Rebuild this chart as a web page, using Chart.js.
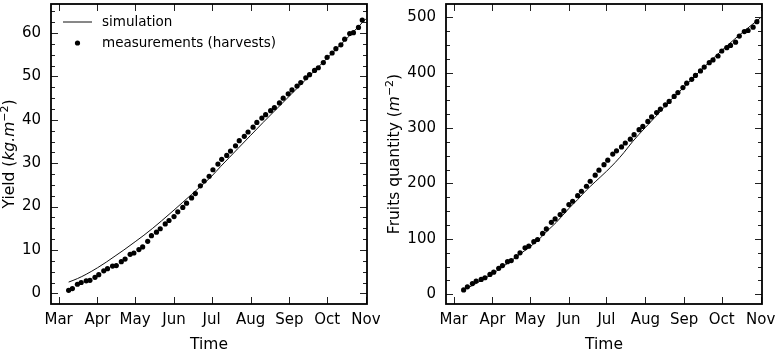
<!DOCTYPE html>
<html>
<head>
<meta charset="utf-8">
<script src="https://cdn.jsdelivr.net/npm/chart.js@4.4.0/dist/chart.umd.min.js"></script>
<style>
  html, body { margin: 0; padding: 0; background: #fff; }
  #wrap { position: relative; width: 777px; height: 351px; }
  #c1 { position: absolute; left: 0; top: 0; }
  #c2 { position: absolute; left: 380px; top: 0; }
</style>
</head>
<body>
<div id="wrap">
  <canvas id="c1" width="380" height="351"></canvas>
  <canvas id="c2" width="397" height="351"></canvas>
</div>
<script>
// month starts, counted in days from 1 March
const monthLabels = ['Mar', 'Apr', 'May', 'Jun', 'Jul', 'Aug', 'Sep', 'Oct', 'Nov'];
const monthDays = [0, 31, 61, 92, 122, 153, 184, 214, 245];

// harvest dates (days from 1 March)
const harvestDays = [8, 11, 15, 18, 22, 25, 29, 32, 36, 39, 43, 46, 50, 53, 57, 60, 64, 67, 71, 74,
  78, 81, 85, 88, 92, 95, 99, 102, 106, 109, 113, 116, 120, 123, 127, 130, 134, 137, 141, 144,
  148, 151, 155, 158, 162, 165, 169, 172, 176, 179, 183, 186, 190, 193, 197, 200, 204, 207, 211, 214,
  218, 221, 225, 228, 232, 235, 239, 242];

// cumulative yield (kg/m2) measured
const yieldMeasured = [0.7, 1.1, 2.1, 2.5, 2.9, 3.0, 3.7, 4.3, 5.2, 5.7, 6.3, 6.4, 7.3, 7.9, 9.0, 9.3, 10.1, 10.7, 12.0, 13.3,
  14.1, 14.9, 16.0, 16.8, 17.7, 18.8, 19.8, 20.8, 22.0, 23.0, 24.8, 25.9, 27.0, 28.5, 29.8, 30.9, 31.8, 32.8, 34.0, 35.2,
  36.2, 37.2, 38.3, 39.4, 40.4, 41.2, 42.1, 42.8, 43.9, 45.0, 46.0, 46.9, 47.8, 48.6, 49.7, 50.4, 51.4, 52.0, 53.2, 54.4,
  55.4, 56.4, 57.3, 58.6, 59.9, 60.1, 61.3, 63.0];

// cumulative fruit count (per m2) measured
const fruitsMeasured = [8, 13.5, 19.5, 24, 27, 30, 36, 40, 47, 52, 59, 61, 68, 75, 84, 87, 95, 99, 110, 118,
  130, 136, 144, 151, 162, 168, 178, 186, 195, 204, 215, 224, 234, 242, 253, 259, 266, 273, 280, 288,
  297, 303, 312, 320, 328, 334, 342, 348, 357, 364, 373, 381, 388, 395, 403, 410, 418, 423, 430, 439,
  445, 449, 455, 466, 474, 476, 482, 492];

// simulation output
const simDays = [8, 15, 22, 31, 38, 45, 52, 61, 68, 75, 82, 92, 99, 106, 113, 122, 129, 136, 143, 153,
  163, 173, 184, 194, 204, 214, 224, 234, 245];
const yieldSimulated = [2.6, 3.4, 4.4, 5.9, 7.2, 8.6, 10.0, 11.9, 13.4, 15.0, 16.7, 19.2, 21.0, 22.8, 24.6, 27.0, 29.2, 31.3, 33.4, 36.4,
  39.4, 42.3, 45.5, 48.4, 51.3, 54.2, 57.1, 60.0, 63.3];
const fruitsSimulated = [8, 16, 25, 37, 48, 59, 71, 86, 99, 115, 130, 155, 171, 188, 203, 222, 238, 256, 276, 301,
  325, 350, 374, 397, 419, 440, 460, 479, 499];

const yieldTicks = [0, 10, 20, 30, 40, 50, 60];
const fruitsTicks = [0, 100, 200, 300, 400, 500];

Chart.defaults.font.family = 'DejaVu Sans';
Chart.defaults.color = '#000';

const pts = (xs, ys) => xs.map((d, i) => ({ x: d, y: ys[i] }));

// inward ticks on all four sides + black frame
const frameTicks = {
  id: 'frameTicks',
  afterDatasetsDraw(chart, args, opts) {
    const { ctx, chartArea: a, scales: { x, y } } = chart;
    ctx.save();
    ctx.strokeStyle = '#222';
    ctx.lineWidth = 1;
    ctx.beginPath();
    const start = Math.ceil(y.min / opts.minor) * opts.minor;
    for (let v = start; v <= y.max; v += opts.minor) {
      const py = Math.round(y.getPixelForValue(v)) + 0.5;
      const major = Math.abs(v % opts.major) < 1e-6;
      const len = major ? 7 : 4;
      ctx.moveTo(a.left, py); ctx.lineTo(a.left + len, py);
      ctx.moveTo(a.right, py); ctx.lineTo(a.right - len, py);
    }
    monthDays.forEach(d => {
      const px = Math.round(x.getPixelForValue(d)) + 0.5;
      ctx.moveTo(px, a.bottom); ctx.lineTo(px, a.bottom - 7);
      ctx.moveTo(px, a.top); ctx.lineTo(px, a.top + 7);
    });
    ctx.stroke();
    ctx.strokeStyle = '#000';
    ctx.lineWidth = 1.8;
    ctx.strokeRect(a.left, a.top, a.right - a.left, a.bottom - a.top);
    ctx.restore();
  }
};

// rotated y title with italic unit and superscript
const yTitle = {
  id: 'yTitle',
  afterDraw(chart, args, opts) {
    const { ctx, chartArea: a } = chart;
    const fonts = {
      n: '15.5px "DejaVu Sans"',
      i: 'italic 15.5px "DejaVu Sans"',
      sup: '11px "DejaVu Sans"'
    };
    ctx.save();
    let w = 0;
    opts.parts.forEach(p => { ctx.font = fonts[p.s]; w += ctx.measureText(p.t).width; });
    ctx.translate(opts.x, (a.top + a.bottom) / 2);
    ctx.rotate(-Math.PI / 2);
    ctx.fillStyle = '#000';
    ctx.textBaseline = 'middle';
    let cx = -w / 2;
    opts.parts.forEach(p => {
      ctx.font = fonts[p.s];
      ctx.fillText(p.t, cx, p.s === 'sup' ? -5 : 0);
      cx += ctx.measureText(p.t).width;
    });
    ctx.restore();
  }
};

// small legend in the top-left corner of the plot
const miniLegend = {
  id: 'miniLegend',
  afterDraw(chart, args, opts) {
    if (!opts.show) return;
    const { ctx, chartArea: a } = chart;
    const [mes, sim] = chart.data.datasets;
    ctx.save();
    ctx.font = '13.5px "DejaVu Sans"';
    ctx.fillStyle = '#000';
    ctx.textBaseline = 'middle';
    const x0 = a.left + 12;
    ctx.strokeStyle = '#111';
    ctx.lineWidth = 1;
    ctx.beginPath();
    ctx.moveTo(x0, a.top + 18); ctx.lineTo(x0 + 29, a.top + 18);
    ctx.stroke();
    ctx.fillText(sim.label, x0 + 39, a.top + 18);
    ctx.beginPath();
    ctx.arc(x0 + 14.5, a.top + 39, 2.6, 0, Math.PI * 2);
    ctx.fill();
    ctx.fillText(mes.label, x0 + 39, a.top + 39);
    ctx.restore();
  }
};

function makeChart(id, cfg) {
  return new Chart(document.getElementById(id), {
    type: 'line',
    data: {
      datasets: [{
        label: 'measurements (harvests)',
        data: pts(harvestDays, cfg.measured),
        showLine: false,
        pointRadius: 2.6,
        pointBackgroundColor: '#000',
        pointBorderWidth: 0,
        order: 0
      }, {
        label: 'simulation',
        data: pts(simDays, cfg.simulated),
        borderColor: '#111',
        borderWidth: 1,
        pointRadius: 0,
        cubicInterpolationMode: 'monotone',
        order: 1
      }]
    },
    options: {
      responsive: false,
      animation: false,
      devicePixelRatio: 1,
      layout: { padding: { top: 2, right: cfg.padRight, bottom: 0, left: 0 } },
      scales: {
        x: {
          type: 'linear',
          min: cfg.xMin,
          max: cfg.xMax,
          grid: { display: false, drawTicks: false },
          border: { display: false },
          afterBuildTicks: s => { s.ticks = monthDays.map(v => ({ value: v })); },
          afterFit: s => { s.height = 47; s.paddingLeft = 0; s.paddingRight = 0; },
          ticks: {
            autoSkip: false,
            maxRotation: 0,
            padding: 7,
            font: { size: 15 },
            callback: v => monthLabels[monthDays.indexOf(v)]
          },
          title: { display: true, text: 'Time', font: { size: 15.5 }, padding: { top: 0, bottom: -3 } }
        },
        y: {
          type: 'linear',
          min: cfg.yMin,
          max: cfg.yMax,
          grid: { display: false, drawTicks: false },
          border: { display: false },
          afterBuildTicks: s => { s.ticks = cfg.yTicks.map(v => ({ value: v })); },
          afterFit: s => { s.width = cfg.yWidth; s.paddingTop = 0; s.paddingBottom = 0; },
          ticks: { padding: 10, font: { size: 15 } }
        }
      },
      plugins: {
        legend: { display: false },
        tooltip: { enabled: false },
        frameTicks: { major: cfg.major, minor: cfg.minor },
        yTitle: { x: cfg.titleX, parts: cfg.titleParts },
        miniLegend: { show: cfg.legend }
      }
    },
    plugins: [frameTicks, yTitle, miniLegend]
  });
}

makeChart('c1', {
  measured: yieldMeasured,
  simulated: yieldSimulated,
  yTicks: yieldTicks,
  yMin: -2.45, yMax: 66.7,
  xMin: -6.05, xMax: 245.8,
  yWidth: 51, padRight: 13,
  major: 10, minor: 2.5,
  titleX: 10,
  titleParts: [{ t: 'Yield (', s: 'n' }, { t: 'kg.m', s: 'i' }, { t: '\u22122', s: 'sup' }, { t: ')', s: 'n' }],
  legend: true
});

makeChart('c2', {
  measured: fruitsMeasured,
  simulated: fruitsSimulated,
  yTicks: fruitsTicks,
  yMin: -17.4, yMax: 523.8,
  xMin: -6.07, xMax: 246.1,
  yWidth: 66, padRight: 15,
  major: 100, minor: 25,
  titleX: 15,
  titleParts: [{ t: 'Fruits quantity (', s: 'n' }, { t: 'm', s: 'i' }, { t: '\u22122', s: 'sup' }, { t: ')', s: 'n' }],
  legend: false
});
</script>
</body>
</html>
